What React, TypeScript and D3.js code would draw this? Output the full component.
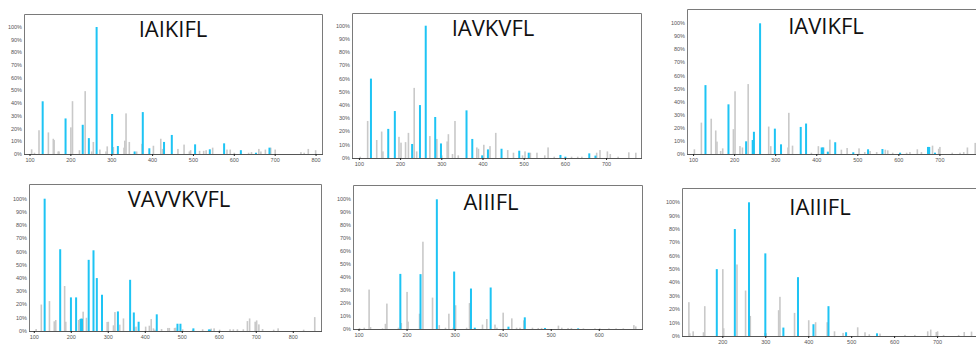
import React from "react";
import * as d3 from "d3";

type Pt = [number, number];

const titles = ["IAIKIFL", "IAVKVFL", "IAVIKFL", "VAVVKVFL", "AIIIFL", "IAIIIFL"];
const yTicks = [0, 10, 20, 30, 40, 50, 60, 70, 80, 90, 100];
const xTicks = [100, 200, 300, 400, 500, 600, 700, 800];

const p1Blue: Pt[] = [[131,41.5],[187,28],[229,23],[244,12.5],[263,100],[301,31.5],[315,6.3],[356,2],[376,33],[392,4.5],[428,9.5],[447,15],[504,7.6],[540,3.7],[575,8.4],[616,3],[653,1],[686,5]];
const p1Gray: Pt[] = [[104,3.7],[111,1],[122,18.7],[145,17],[157,12],[159,11],[169,2],[171,2],[200,21],[204,41.6],[221,3],[235,49.5],[251,2],[255,9.5],[271,3.5],[286,2],[289,6],[304,5.5],[330,5],[332,10.5],[335,32],[343,9.5],[361,2],[374,8],[402,6.5],[420,12],[424,4],[462,4],[477,7.4],[490,2],[493,3],[515,2.5],[525,2.5],[531,3],[547,5],[582,3.5],[590,3.5],[600,1],[635,1],[642,1.5],[660,4],[665,2],[676,3.5],[689,5],[700,3.5],[763,1.5],[771,1],[781,4],[799,3]];

const p2Blue: Pt[] = [[128,60],[170,22],[186,35.5],[228,10.6],[247,40],[261,100],[284,31],[298,11],[360,36],[374,14.4],[398,2],[412,6.5],[445,7],[488,5.5],[511,4],[588,2.3],[600,1],[658,3.5],[673,1.8]];
const p2Gray: Pt[] = [[102,1],[120,28],[142,13.6],[154,20],[157,5],[196,16],[201,11.6],[212,12],[219,19],[233,53],[239,5],[271,16.6],[288,14.4],[300,2],[313,12.5],[316,18],[326,3],[332,28],[340,2],[385,8],[389,7],[402,10],[417,9],[431,19],[460,6],[474,4],[496,2],[502,5],[515,4],[531,4],[550,2],[558,8],[573,1],[615,1],[630,1],[640,1],[676,4],[684,6],[702,5],[709,3],[728,1],[754,4.3],[771,4]];

const p3Blue: Pt[] = [[129,52.7],[185,38],[228,9.7],[244,10.7],[247,17],[262,100],[298,19.4],[313,7.4],[361,20.7],[374,23.3],[412,5],[415,5],[427,1.8],[445,9],[489,1.3],[525,3.6],[560,3.8],[603,1],[671,5.4],[674,5.4],[688,1]];
const p3Gray: Pt[] = [[102,3.6],[119,24],[143,27],[154,18],[157,9.5],[166,2.3],[171,4.3],[197,19],[201,48],[213,6.1],[219,5],[233,53.5],[283,21],[288,6],[330,5],[332,31.5],[341,6.4],[387,1],[404,6],[417,5],[432,11],[460,3.3],[474,4.6],[503,4.3],[517,1.5],[530,2.3],[546,1.5],[567,3.3],[573,2.8],[585,1],[619,1],[627,1.5],[645,3.6],[655,1.5],[682,6.4],[697,4],[700,5.4],[730,1],[749,1],[758,1.5],[767,5],[786,8.5]];

const p4Blue: Pt[] = [[128,100],[170,61.8],[199,25.4],[213,25.4],[226,9.3],[229,9.3],[247,53.8],[260,61],[269,40],[283,27.4],[326,14.8],[359,38.7],[369,14],[382,7],[431,12.6],[487,5.5],[495,5.5],[530,2],[572,1.2],[575,1]];
const p4Gray: Pt[] = [[105,1.5],[119,20],[141,22.6],[154,7.3],[158,8.3],[182,34],[185,7],[220,8.3],[223,9],[232,14.6],[241,10],[297,6.8],[300,7],[314,4.3],[318,14.3],[331,4.8],[341,9.5],[371,2.8],[375,3.3],[401,3.3],[411,4],[416,9],[422,2],[426,1],[444,1.5],[461,2.3],[465,2.3],[479,2.3],[482,2.5],[501,1.3],[528,1],[555,1.3],[578,1.8],[586,2],[601,1],[629,1.3],[638,1.3],[649,1.3],[665,1.3],[676,7.5],[682,9.5],[697,7],[701,8],[707,5],[717,1.5],[747,1],[759,2],[828,1],[858,10.5]];

const p5Blue: Pt[] = [[186,42.5],[228,42.3],[262,100],[298,44.3],[333,31.2],[341,1],[374,32],[411,1.8],[445,9],[487,0.8],[556,0.5]];
const p5Gray: Pt[] = [[101,0.8],[111,1],[121,30.4],[124,1.5],[149,0.5],[155,4],[158,19.6],[182,1],[188,4.6],[200,28.6],[202,5.7],[226,11.8],[233,67.3],[253,24.2],[267,3],[280,1],[287,11.8],[296,1],[301,18.3],[324,1],[330,20],[357,3.4],[366,7.7],[383,3.4],[387,1],[400,12.6],[418,8.2],[428,1],[435,1],[443,6.7],[461,1],[473,0.8],[480,0.8],[515,2.6],[522,1],[535,0.8],[542,0.8],[567,0.5],[591,0.5],[601,0.5],[620,0.5],[635,0.5],[650,0.5],[672,3],[676,2]];

const p6Blue: Pt[] = [[186,50],[228,80],[261,100],[299,61.8],[341,6.3],[375,44],[411,8.8],[446,22.3],[487,2.8],[559,2]];
const p6Gray: Pt[] = [[121,25.3],[123,2],[131,3.5],[155,2.8],[158,22.3],[200,50],[202,5.8],[233,53.5],[253,34],[264,15],[298,2.3],[301,2],[330,19.3],[333,29.3],[367,17.3],[400,11.8],[416,10.3],[443,10.3],[460,3.5],[480,2.3],[514,6.5],[531,2.8],[541,1.3],[566,1.8],[624,0.8],[647,0.8],[677,3.5],[684,4.8],[697,3],[700,3.5],[714,0.8],[749,0.8],[762,3],[779,3.3]];

const seriesBlue = [p1Blue, p2Blue, p3Blue, p4Blue, p5Blue, p6Blue];
const seriesGray = [p1Gray, p2Gray, p3Gray, p4Gray, p5Gray, p6Gray];

// layout per panel (pixel geometry)
const layout = [
  { l: 24, r: 323, t: 14, b: 154, xd: [85.3, 817], y100: 27, tx: 173, ty: 36.5 },
  { l: 352, r: 642, t: 13, b: 158, xd: [82, 786], y100: 25.7, tx: 493, ty: 36 },
  { l: 687, r: 990, t: 9, b: 154, xd: [84, 822], y100: 23.3, tx: 826, ty: 34 },
  { l: 29, r: 322, t: 184, b: 331, xd: [85.7, 877.6], y100: 198.7, tx: 179, ty: 207 },
  { l: 353, r: 643, t: 185, b: 329, xd: [87.5, 691], y100: 199.3, tx: 491, ty: 210 },
  { l: 682, r: 990, t: 188, b: 336, xd: [105, 822], y100: 202.3, tx: 820, ty: 215 },
];

const BLUE = "#1ec4f4";
const GRAY = "#c9c9c9";

function Panel({ i }: { i: number }) {
  const L = layout[i];
  const x = d3.scaleLinear().domain(L.xd).range([L.l, L.r]);
  const y = d3.scaleLinear().domain([0, 100]).range([L.b, L.y100]);
  const ticks = xTicks.filter((v) => x(v) >= L.l && x(v) <= Math.min(L.r, 970));
  return (
    <g>
      <rect x={L.l} y={L.t} width={L.r - L.l} height={L.b - L.t} fill="#fff" />
      {seriesGray[i].map(([m, p], k) => (
        <rect key={"g" + k} x={x(m) - 0.8} y={y(p)} width={1.6} height={L.b - y(p)} fill={GRAY} />
      ))}
      {seriesBlue[i].map(([m, p], k) => (
        <rect key={"b" + k} x={x(m) - 1} y={y(p)} width={2} height={L.b - y(p)} fill={BLUE} />
      ))}
      <path
        d={`M${L.l + 0.5},${L.b}V${L.t + 0.5}H${L.r - 0.5}V${L.b}`}
        fill="none"
        stroke="#7a7a7a"
        strokeWidth={1}
      />
      <line x1={L.l} x2={L.r} y1={L.b + 0.5} y2={L.b + 0.5} stroke="#555" strokeWidth={1} />
      {yTicks.map((v) => (
        <text
          key={"y" + v}
          x={L.l - 2}
          y={y(v)}
          dy="0.35em"
          textAnchor="end"
          fontSize={5.5}
          fill="#555"
          fontFamily="Liberation Sans, Arial, sans-serif"
        >
          {v + "%"}
        </text>
      ))}
      {ticks.map((v) => (
        <g key={"x" + v}>
          <line x1={x(v)} x2={x(v)} y1={L.b} y2={L.b + 2} stroke="#222" strokeWidth={1} />
          <text
            x={x(v)}
            y={L.b + 6.5}
            dy="0.35em"
            textAnchor="middle"
            fontSize={5.5}
            fill="#555"
            fontFamily="Liberation Sans, Arial, sans-serif"
          >
            {v}
          </text>
        </g>
      ))}
      <text
        x={L.tx}
        y={L.ty}
        textAnchor="middle"
        fontSize={22}
        fill="#111"
        fontFamily="Open Sans, sans-serif"
      >
        {titles[i]}
      </text>
    </g>
  );
}

export default function App() {
  return (
    <svg
      width={976}
      height={344}
      style={{ position: "fixed", left: 0, top: 0, background: "#fff" }}
    >
      <rect width={976} height={344} fill="#fff" />
      {titles.map((_, i) => (
        <Panel key={i} i={i} />
      ))}
    </svg>
  );
}
